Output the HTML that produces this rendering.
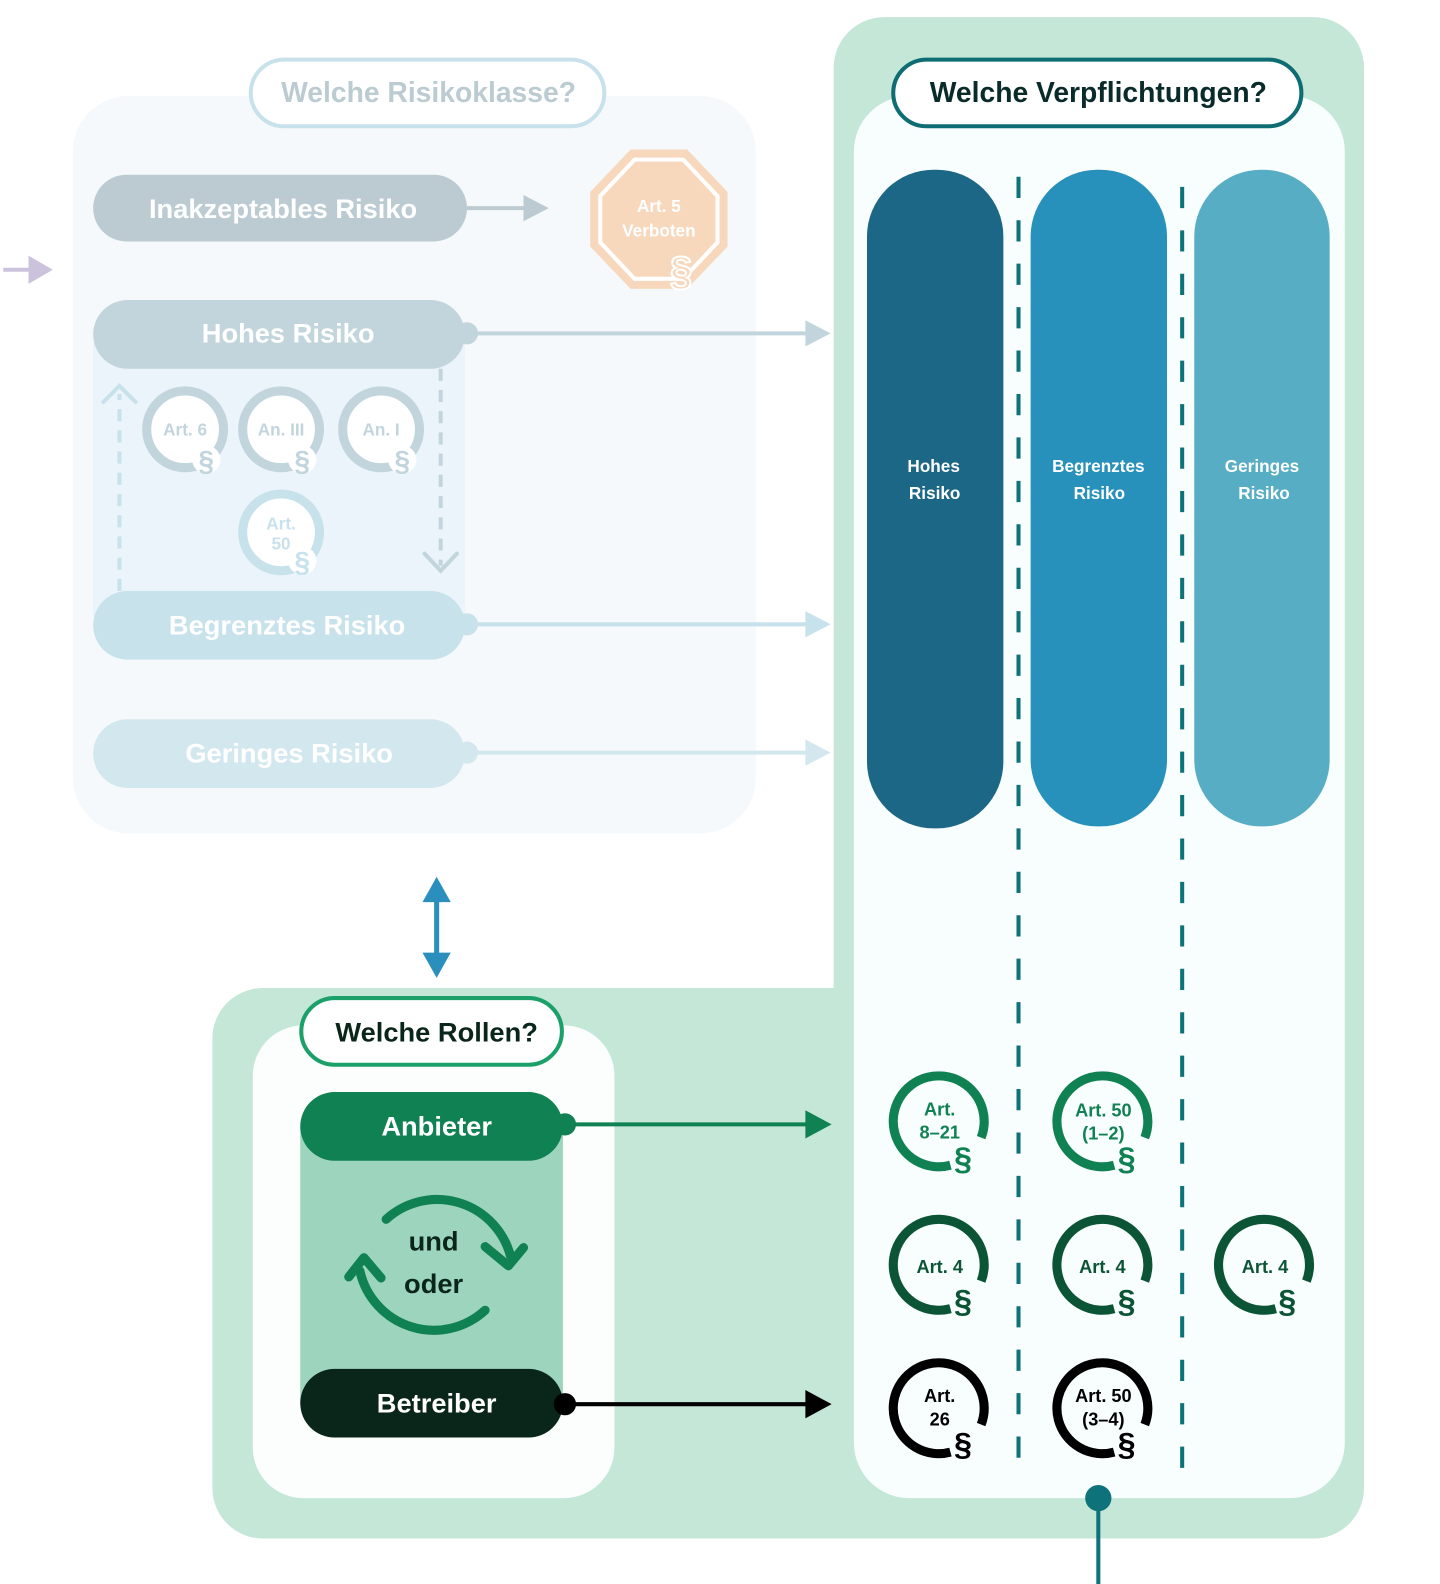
<!DOCTYPE html>
<html><head><meta charset="utf-8"><style>
html,body{margin:0;padding:0;background:#fff;}
svg{display:block;}
text{font-family:"Liberation Sans",Arial,sans-serif;font-weight:bold;}
</style></head><body>
<svg width="1440" height="1584" viewBox="0 0 1425 1568" xmlns="http://www.w3.org/2000/svg">
<defs>
<marker id="ag" viewBox="0 0 10 10" refX="9" refY="5" markerWidth="5" markerHeight="5" orient="auto" markerUnits="userSpaceOnUse"><path d="M0 0L10 5L0 10z"/></marker>
</defs>
<!-- left panel -->
<rect x="72" y="95" width="676" height="730" rx="55" fill="#f5f9fb"/>
<rect x="248" y="59" width="350" height="66" rx="33" fill="#fff" stroke="#c8e2ec" stroke-width="4"/>
<text x="424" y="101" font-size="28" fill="#bccbd1" text-anchor="middle">Welche Risikoklasse?</text>
<!-- purple arrow -->
<line x1="3" y1="267" x2="32" y2="267" stroke="#cbc3dc" stroke-width="4"/>
<path d="M28 253L52 267L28 281z" fill="#cbc3dc"/>
<!-- Inakzeptables -->
<rect x="92" y="173" width="370" height="66" rx="33" fill="#bccbd1"/>
<text x="280" y="216" font-size="27" fill="#fff" text-anchor="middle">Inakzeptables  Risiko</text>
<line x1="462" y1="206" x2="522" y2="206" stroke="#bccbd1" stroke-width="4"/>
<path d="M518 193L543 206L518 219z" fill="#bccbd1"/>
<!-- octagon -->
<polygon points="624,148 680,148 720,190 720,244 680,286 624,286 584,244 584,190" fill="#f7d8bd"/>
<polygon points="628,158 676,158 710,194 710,240 676,276 628,276 594,240 594,194" fill="none" stroke="#fff" stroke-width="4"/>
<text x="652" y="210" font-size="17" fill="#fff" text-anchor="middle">Art. 5</text>
<text x="652" y="234" font-size="17" fill="#fff" text-anchor="middle">Verboten</text>
<text x="674" y="282" font-size="40" fill="#f7d8bd" stroke="#fff" stroke-width="2" text-anchor="middle" font-family="Liberation Serif">§</text>
<!-- Hohes light box -->
<rect x="92" y="340" width="368" height="270" fill="#ebf4fa"/>
<rect x="92" y="297" width="368" height="68" rx="34" fill="#c2d5dc"/>
<text x="285" y="339" font-size="27" fill="#fff" text-anchor="middle">Hohes Risiko</text>
<circle cx="462" cy="330" r="11" fill="#c2d5dc"/>
<line x1="462" y1="330" x2="800" y2="330" stroke="#c2d5dc" stroke-width="4"/>
<path d="M797 317L822 330L797 343z" fill="#c2d5dc"/>
<!-- dashed arrows -->
<line x1="118" y1="585" x2="118" y2="390" stroke="#c8e2ec" stroke-width="4" stroke-dasharray="12 9"/>
<path d="M102 398L118 382L134 398" fill="none" stroke="#c8e2ec" stroke-width="4" stroke-linecap="round"/>
<line x1="436" y1="365" x2="436" y2="560" stroke="#c2d5dc" stroke-width="4" stroke-dasharray="12 9"/>
<path d="M420 548L436 565L452 548" fill="none" stroke="#c2d5dc" stroke-width="4" stroke-linecap="round"/>
<!-- small circles -->
<g font-size="17" text-anchor="middle">
<circle cx="183" cy="425" r="38" fill="#fff" stroke="#c2d5dc" stroke-width="9"/>
<text x="183" y="431" fill="#c2d5dc">Art. 6</text>
<circle cx="204" cy="455" r="14" fill="#fff"/><text x="204" y="466" font-size="28" fill="#c2d5dc" font-family="Liberation Serif">§</text>
<circle cx="278" cy="425" r="38" fill="#fff" stroke="#c2d5dc" stroke-width="9"/>
<text x="278" y="431" fill="#c2d5dc">An. III</text>
<circle cx="299" cy="455" r="14" fill="#fff"/><text x="299" y="466" font-size="28" fill="#c2d5dc" font-family="Liberation Serif">§</text>
<circle cx="377" cy="425" r="38" fill="#fff" stroke="#c2d5dc" stroke-width="9"/>
<text x="377" y="431" fill="#c2d5dc">An. I</text>
<circle cx="398" cy="455" r="14" fill="#fff"/><text x="398" y="466" font-size="28" fill="#c2d5dc" font-family="Liberation Serif">§</text>
<circle cx="278" cy="527" r="38" fill="#fff" stroke="#c8e2ec" stroke-width="9"/>
<text x="278" y="524" fill="#c8e2ec">Art.</text><text x="278" y="544" fill="#c8e2ec">50</text>
<circle cx="299" cy="555" r="14" fill="#fff"/><text x="299" y="566" font-size="28" fill="#c8e2ec" font-family="Liberation Serif">§</text>
</g>
<!-- Begrenztes -->
<rect x="92" y="585" width="368" height="68" rx="34" fill="#c8e2ec"/>
<text x="284" y="628" font-size="27" fill="#fff" text-anchor="middle">Begrenztes Risiko</text>
<circle cx="462" cy="618" r="11" fill="#c8e2ec"/>
<line x1="462" y1="618" x2="800" y2="618" stroke="#c8e2ec" stroke-width="4"/>
<path d="M797 605L822 618L797 631z" fill="#c8e2ec"/>
<!-- Geringes -->
<rect x="92" y="712" width="368" height="68" rx="34" fill="#d3e8ee"/>
<text x="286" y="755" font-size="27" fill="#fff" text-anchor="middle">Geringes Risiko</text>
<circle cx="462" cy="745" r="11" fill="#d3e8ee"/>
<line x1="462" y1="745" x2="800" y2="745" stroke="#d3e8ee" stroke-width="4"/>
<path d="M797 732L822 745L797 758z" fill="#d3e8ee"/>
<!-- double arrow -->
<line x1="432" y1="885" x2="432" y2="950" stroke="#2a8fbd" stroke-width="5"/>
<path d="M418 893L432 868L446 893z" fill="#2a8fbd"/>
<path d="M418 943L432 968L446 943z" fill="#2a8fbd"/>
<!-- big green bg -->
<path d="M875 17H1300A50 50 0 0 1 1350 67V1473A50 50 0 0 1 1300 1523H260A50 50 0 0 1 210 1473V1028A50 50 0 0 1 260 978H825V67A50 50 0 0 1 875 17z" fill="#c5e7d8"/>
<rect x="845" y="95" width="486" height="1388" rx="55" fill="#f8fdfd"/>
<rect x="884" y="59" width="404" height="66" rx="33" fill="#fff" stroke="#0e6c73" stroke-width="4"/>
<text x="1087" y="101" font-size="28" fill="#0b2a2a" text-anchor="middle">Welche Verpflichtungen?</text>
<!-- columns -->
<rect x="858" y="168" width="135" height="652" rx="66" fill="#1d6786"/>
<rect x="1020" y="168" width="135" height="650" rx="66" fill="#2891bb"/>
<rect x="1182" y="168" width="134" height="650" rx="66" fill="#56adc4"/>
<g font-size="17" fill="#fff" text-anchor="middle">
<text x="924" y="467">Hohes</text><text x="925" y="494">Risiko</text>
<text x="1087" y="467">Begrenztes</text><text x="1088" y="494">Risiko</text>
<text x="1249" y="467">Geringes</text><text x="1251" y="494">Risiko</text>
</g>
<line x1="1008" y1="175" x2="1008" y2="1455" stroke="#0e727a" stroke-width="4" stroke-dasharray="21 22"/>
<line x1="1170" y1="185" x2="1170" y2="1455" stroke="#0e727a" stroke-width="4" stroke-dasharray="21 22"/>
<!-- obligation circles -->
<g text-anchor="middle" font-size="18">
<g stroke-width="9" fill="none">
<circle cx="929" cy="1110" r="45" stroke="#108152" stroke-dasharray="240 43" transform="rotate(75 929 1110)"/>
<circle cx="1091" cy="1110" r="45" stroke="#108152" stroke-dasharray="240 43" transform="rotate(75 1091 1110)"/>
<circle cx="929" cy="1252" r="45" stroke="#0b5436" stroke-dasharray="240 43" transform="rotate(75 929 1252)"/>
<circle cx="1091" cy="1252" r="45" stroke="#0b5436" stroke-dasharray="240 43" transform="rotate(75 1091 1252)"/>
<circle cx="1251" cy="1252" r="45" stroke="#0b5436" stroke-dasharray="240 43" transform="rotate(75 1251 1252)"/>
<circle cx="929" cy="1394" r="45" stroke="#000" stroke-dasharray="240 43" transform="rotate(75 929 1394)"/>
<circle cx="1091" cy="1394" r="45" stroke="#000" stroke-dasharray="240 43" transform="rotate(75 1091 1394)"/>
</g>
<text x="930" y="1104" fill="#108152">Art.</text><text x="930" y="1127" fill="#108152">8–21</text>
<text x="1092" y="1105" fill="#108152">Art. 50</text><text x="1092" y="1128" fill="#108152">(1–2)</text>
<text x="930" y="1260" fill="#0b5436">Art. 4</text>
<text x="1091" y="1260" fill="#0b5436">Art. 4</text>
<text x="1252" y="1260" fill="#0b5436">Art. 4</text>
<text x="930" y="1388" fill="#000">Art.</text><text x="930" y="1411" fill="#000">26</text>
<text x="1092" y="1388" fill="#000">Art. 50</text><text x="1092" y="1411" fill="#000">(3–4)</text>
<g font-size="32" font-family="Liberation Serif">
<text x="953" y="1158" fill="#108152">§</text><text x="1115" y="1158" fill="#108152">§</text>
<text x="953" y="1299" fill="#0b5436">§</text><text x="1115" y="1299" fill="#0b5436">§</text><text x="1274" y="1299" fill="#0b5436">§</text>
<text x="953" y="1441" fill="#000">§</text><text x="1115" y="1441" fill="#000">§</text>
</g>
</g>
<circle cx="1087" cy="1483" r="13" fill="#0e727a"/>
<line x1="1087" y1="1483" x2="1087" y2="1568" stroke="#0e727a" stroke-width="4"/>
<!-- Rollen -->
<rect x="250" y="1015" width="358" height="468" rx="50" fill="#fbfefd"/>
<rect x="298" y="988" width="258" height="66" rx="33" fill="#fff" stroke="#1ca06a" stroke-width="4"/>
<text x="432" y="1031" font-size="27" fill="#0a2519" text-anchor="middle">Welche Rollen?</text>
<rect x="297" y="1115" width="260" height="275" fill="#9dd4bd"/>
<rect x="297" y="1081" width="260" height="68" rx="34" fill="#108152"/>
<text x="432" y="1124" font-size="27" fill="#fff" text-anchor="middle">Anbieter</text>
<circle cx="559" cy="1113" r="11" fill="#108152"/>
<line x1="559" y1="1113" x2="800" y2="1113" stroke="#108152" stroke-width="4"/>
<path d="M797 1099L823 1113L797 1127z" fill="#108152"/>
<path d="M382 1207A75 75 0 0 1 505 1243" fill="none" stroke="#108152" stroke-width="9" stroke-linecap="round"/>
<path d="M480 1234L503 1253L518 1235" fill="none" stroke="#108152" stroke-width="9" stroke-linecap="round" stroke-linejoin="round"/>
<path d="M480 1297A75 75 0 0 1 356 1258" fill="none" stroke="#108152" stroke-width="9" stroke-linecap="round"/>
<path d="M345 1264L360 1245L377 1265" fill="none" stroke="#108152" stroke-width="9" stroke-linecap="round" stroke-linejoin="round"/>
<text x="429" y="1238" font-size="27" fill="#0a2519" text-anchor="middle" font-weight="normal" style="font-weight:600">und</text>
<text x="429" y="1280" font-size="27" fill="#0a2519" text-anchor="middle" style="font-weight:600">oder</text>
<rect x="297" y="1355" width="260" height="68" rx="34" fill="#0a2519"/>
<text x="432" y="1398" font-size="27" fill="#fff" text-anchor="middle">Betreiber</text>
<circle cx="559" cy="1390" r="11" fill="#000"/>
<line x1="559" y1="1390" x2="800" y2="1390" stroke="#000" stroke-width="4"/>
<path d="M797 1376L823 1390L797 1404z" fill="#000"/>
</svg>
</body></html>
